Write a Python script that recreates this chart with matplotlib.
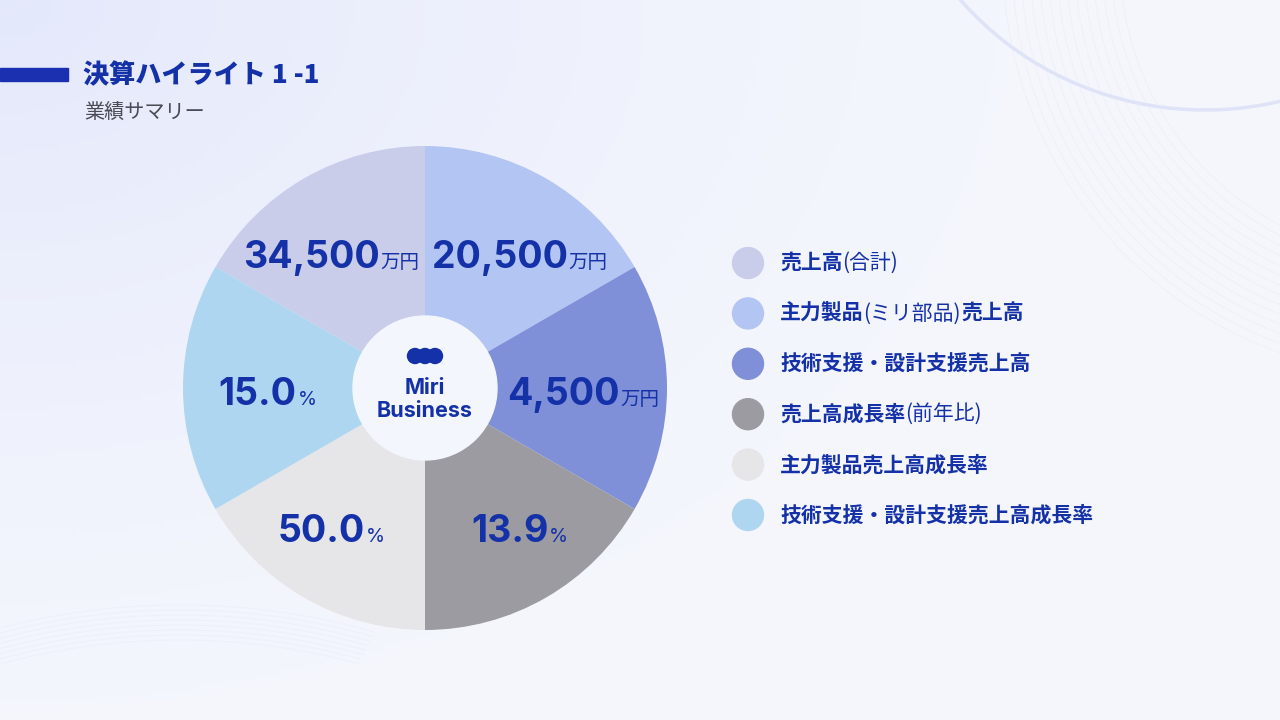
import numpy as np
import matplotlib.pyplot as plt
from matplotlib.patches import Circle, Rectangle, Arc

plt.rcParams['font.family'] = ['Noto Sans CJK JP', 'DejaVu Sans']

# データ
title = '決算ハイライト 1 -1'
subtitle = '業績サマリー'
shares = [1, 1, 1, 1, 1, 1]
numbers = ['34,500', '20,500', '4,500', '13.9', '50.0', '15.0']
units = ['万円', '万円', '万円', '%', '%', '%']
legend_parts = [
    [('売上高', 'bold'), ('(合計)', 'normal')],
    [('主力製品', 'bold'), ('(ミリ部品)', 'normal'), ('売上高', 'bold')],
    [('技術支援・設計支援売上高', 'bold')],
    [('売上高成長率', 'bold'), ('(前年比)', 'normal')],
    [('主力製品売上高成長率', 'bold')],
    [('技術支援・設計支援売上高成長率', 'bold')],
]
colors = ['#c9cdea', '#b3c5f2', '#7f90d8', '#9b9ba1', '#e6e5e8', '#afd6f0']
navy = '#1431a8'

W, H = 1280, 720
def Y(y):
    return H - y

fig = plt.figure(figsize=(12.8, 7.2), dpi=100)
ax = fig.add_axes([0, 0, 1, 1])

# 背景 (左上がやや青い)
gx, gy = np.meshgrid(np.linspace(0, 1, 256), np.linspace(0, 1, 144))
base = np.array([0.957, 0.965, 0.992])
tl = np.array([0.893, 0.910, 0.984])
w = np.clip(1 - np.sqrt((gx / 0.8) ** 2 + (gy / 1.0) ** 2), 0, 1) ** 1.4
img = base[None, None, :] * (1 - w[..., None]) + tl[None, None, :] * w[..., None]
ax.imshow(img, extent=(0, W, 0, H), aspect='auto', zorder=0)

# 右上の装飾
ax.add_patch(Arc((1205, Y(-200)), 640, 620, theta1=190, theta2=355,
                 color='#d9dff6', lw=2.5, alpha=0.8, zorder=1))
for k in range(14):
    r = 300 + k * 9
    ax.add_patch(Arc((1420, Y(-40)), 2 * r, 2 * r, theta1=180, theta2=270,
                     color='#e6eaf8', lw=0.5, alpha=0.6, zorder=1))
# 左下の装飾
for k in range(8):
    ax.add_patch(Arc((180, Y(1000)), 1000 + k * 10, 720 + k * 10, theta1=62, theta2=118,
                     color='#e6ebf9', lw=0.7, alpha=0.5, zorder=1))

# タイトル
ax.add_patch(Rectangle((0, Y(81)), 68, 13, color='#1a30b0', zorder=3))
ax.text(83, Y(75), title, fontsize=18.8, fontweight='heavy', color=navy,
        va='center', ha='left', zorder=3)
ax.text(84, Y(113), subtitle, fontsize=14.5, color='#4a4a55',
        va='center', ha='left', zorder=3)

# 円グラフ
cx, cy, R = 425, Y(388), 242
wedges, _ = ax.pie(shares, colors=colors, startangle=150, counterclock=False,
                   center=(cx, cy), radius=R, wedgeprops=dict(linewidth=0))
for wd in wedges:
    wd.set_zorder(2)
ax.set_xlim(0, W)
ax.set_ylim(0, H)
ax.set_aspect('auto')
ax.axis('off')

fig.canvas.draw()
rend = fig.canvas.get_renderer()

for wd, num, unit in zip(wedges, numbers, units):
    mid = ((wd.theta1 + wd.theta2) / 2) % 360
    # 水平方向へ少し寄せる
    phi = np.arctan2(np.sin(np.deg2rad(mid)), abs(np.cos(np.deg2rad(mid))))
    phi *= 55 / 60
    sx = 1 if np.cos(np.deg2rad(mid)) >= 0 else -1
    lx = cx + sx * 164 * np.cos(phi)
    ly = cy + 167 * np.sin(phi) - 2
    if abs(np.sin(phi)) < 0.01:
        lx = cx + sx * 158
    t1 = ax.text(0, ly - 15, num, fontsize=27, fontweight='bold', color=navy,
                 family=['Inter', 'Noto Sans CJK JP'], ha='left', va='baseline', zorder=4)
    t2 = ax.text(0, ly - 15, unit, fontsize=14, color=navy,
                 family=['Inter', 'Noto Sans CJK JP'], ha='left', va='baseline', zorder=4)
    w1 = t1.get_window_extent(rend).width
    w2 = t2.get_window_extent(rend).width
    x0 = lx - (w1 + w2) / 2
    t1.set_x(x0)
    t2.set_x(x0 + w1 + 1)

# 中央の円
ax.add_patch(Circle((cx, cy), 72, color='#f3f6fd', zorder=5))
for dx in (-10, 0, 10):
    ax.add_patch(Circle((cx + dx, Y(356)), 7.5, color=navy, zorder=6))
ax.text(cx, Y(388), 'Miri', fontsize=15.5, fontweight='bold', color=navy,
        family=['Inter', 'DejaVu Sans'], ha='center', va='center', zorder=6)
ax.text(cx, Y(411), 'Business', fontsize=15.5, fontweight='bold', color=navy,
        family=['Inter', 'DejaVu Sans'], ha='center', va='center', zorder=6)

# 凡例
for i, (parts, col) in enumerate(zip(legend_parts, colors)):
    yy = Y(263 + i * 50.4)
    ax.add_patch(Circle((748, yy), 15.5, color=col, zorder=3))
    x = 780
    for txt, wt in parts:
        t = ax.text(x, yy, txt, fontsize=15, fontweight=wt, color=navy,
                    ha='left', va='center', zorder=3)
        x += t.get_window_extent(rend).width

fig.savefig('out.png', dpi=100)
